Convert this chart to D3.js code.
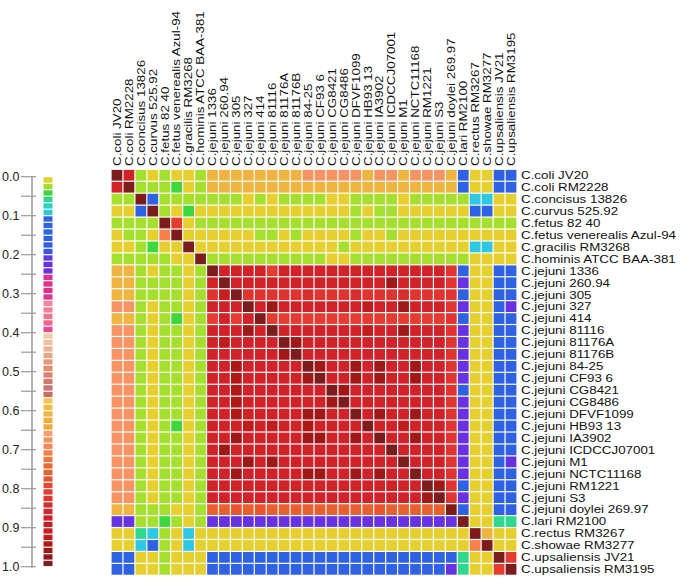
<!DOCTYPE html>
<html><head><meta charset="utf-8">
<script src="https://cdn.jsdelivr.net/npm/d3@7"></script>
<style>
body{margin:0;background:#fff;}
svg text{font-family:"Liberation Sans",Arial,Helvetica,sans-serif;}
</style>
</head><body>
<svg id="chart" width="686" height="580"></svg>
<script>
const strains = ["C.coli JV20","C.coli RM2228","C.concisus 13826","C.curvus 525.92","C.fetus 82 40","C.fetus venerealis Azul-94","C.gracilis RM3268","C.hominis ATCC BAA-381","C.jejuni 1336","C.jejuni 260.94","C.jejuni 305","C.jejuni 327","C.jejuni 414","C.jejuni 81116","C.jejuni 81176A","C.jejuni 81176B","C.jejuni 84-25","C.jejuni CF93 6","C.jejuni CG8421","C.jejuni CG8486","C.jejuni DFVF1099","C.jejuni HB93 13","C.jejuni IA3902","C.jejuni ICDCCJ07001","C.jejuni M1","C.jejuni NCTC11168","C.jejuni RM1221","C.jejuni S3","C.jejuni doylei 269.97","C.lari RM2100","C.rectus RM3267","C.showae RM3277","C.upsaliensis JV21","C.upsaliensis RM3195"];

const palette = ["#e6cf2e","#a5e02e","#3ed83e","#2ed88e","#2ed0c0","#2ec8e4",
"#2e62e2","#2e62e2","#2e62e2","#2e62e2","#2e62e2","#3a56e2",
"#5a3ce2","#6832e2","#6832e2","#e0308a","#e0308a","#e0308a",
"#e0348e","#f08898","#f08090","#f07490","#f06290","#f04890",
"#f2cca2","#ecc0a0","#eab498","#e8a888","#e89a7a","#e88c6c",
"#e08070","#d87870","#d07070","#d06868","#f2c458","#f2bc48",
"#f0b440","#f0b038","#f0aa30","#f8a070","#f89464","#f88a58",
"#f8804a","#f07840","#e86a34","#e86030","#e85430","#e84830",
"#e63c30","#e03430","#d82e30","#d22a30","#d02228","#cc2024",
"#c81e20","#c01c1c","#b01818","#a01818","#901818","#7c1c1c"];

const legendTicks = [0,0.1,0.2,0.3,0.4,0.5,0.6,0.7,0.8,0.9,1.0];
const legendMinorTicks = [0.05,0.15,0.25,0.35,0.45,0.55,0.65,0.75,0.85,0.95];

const matrix = [
[1.0,0.88,0.02,0.00,0.02,0.00,0.00,0.02, 0.61,0.61,0.61,0.61,0.61,0.61,0.61,0.61,0.68,0.68,0.68,0.68,0.68,0.61,0.68,0.68,0.61,0.68,0.68,0.68,0.61, 0.14,0.00,0.00,0.14,0.14],
[0.88,1.0,0.02,0.02,0.02,0.04,0.00,0.02, 0.61,0.61,0.61,0.61,0.61,0.61,0.61,0.61,0.61,0.61,0.61,0.61,0.61,0.61,0.61,0.61,0.61,0.61,0.61,0.61,0.61, 0.14,0.00,0.00,0.14,0.14],
[0.02,0.02,1.0,0.14,0.02,0.02,0.02,0.02, 0.02,0.02,0.02,0.00,0.02,0.00,0.02,0.02,0.02,0.02,0.00,0.00,0.02,0.02,0.02,0.02,0.00,0.02,0.02,0.02,0.02, 0.02,0.09,0.09,0.00,0.00],
[0.00,0.00,0.14,1.0,0.02,0.00,0.04,0.00, 0.00,0.00,0.00,0.00,0.00,0.00,0.00,0.00,0.00,0.00,0.00,0.00,0.02,0.00,0.02,0.02,0.00,0.00,0.00,0.00,0.00, 0.00,0.14,0.14,0.00,0.00],
[0.02,0.02,0.02,0.02,1.0,0.81,0.00,0.02, 0.02,0.02,0.02,0.02,0.02,0.02,0.02,0.02,0.02,0.02,0.02,0.02,0.02,0.02,0.02,0.02,0.02,0.02,0.02,0.02,0.02, 0.02,0.02,0.02,0.02,0.02],
[0.00,0.02,0.02,0.00,0.71,1.0,0.00,0.00, 0.00,0.00,0.00,0.00,0.02,0.02,0.00,0.02,0.00,0.00,0.00,0.00,0.02,0.00,0.00,0.02,0.00,0.00,0.00,0.00,0.00, 0.00,0.00,0.00,0.00,0.00],
[0.00,0.00,0.02,0.04,0.00,0.00,1.0,0.00, 0.00,0.00,0.00,0.00,0.00,0.00,0.00,0.00,0.00,0.00,0.00,0.02,0.00,0.00,0.00,0.00,0.00,0.00,0.00,0.00,0.00, 0.00,0.09,0.09,0.00,0.00],
[0.02,0.02,0.02,0.02,0.02,0.00,0.00,1.0, 0.02,0.02,0.02,0.02,0.02,0.02,0.02,0.02,0.02,0.02,0.00,0.00,0.02,0.02,0.02,0.02,0.02,0.02,0.02,0.02,0.02, 0.02,0.00,0.00,0.00,0.00],
[0.61,0.61,0.02,0.00,0.02,0.02,0.00,0.02, 1.0,0.88,0.88,0.88,0.88,0.81,0.88,0.88,0.88,0.88,0.88,0.88,0.88,0.88,0.88,0.88,0.88,0.88,0.88,0.88,0.82, 0.14,0.00,0.00,0.14,0.14],
[0.61,0.61,0.02,0.02,0.02,0.02,0.00,0.02, 0.88,1.0,0.88,0.88,0.88,0.88,0.88,0.88,0.88,0.88,0.88,0.88,0.88,0.88,0.88,0.96,0.88,0.88,0.88,0.88,0.82, 0.22,0.00,0.00,0.14,0.14],
[0.61,0.61,0.02,0.02,0.02,0.02,0.00,0.02, 0.83,0.90,1.0,0.82,0.82,0.82,0.82,0.82,0.84,0.82,0.82,0.82,0.84,0.82,0.82,0.82,0.84,0.82,0.82,0.82,0.82, 0.14,0.00,0.00,0.14,0.14],
[0.68,0.68,0.02,0.00,0.02,0.02,0.00,0.02, 0.88,0.88,0.88,1.0,0.88,0.96,0.88,0.88,0.88,0.88,0.88,0.88,0.88,0.92,0.88,0.88,0.96,0.88,0.88,0.88,0.82, 0.22,0.00,0.00,0.14,0.22],
[0.61,0.61,0.02,0.00,0.02,0.04,0.00,0.02, 0.81,0.88,0.81,0.88,1.0,0.81,0.81,0.81,0.81,0.81,0.81,0.81,0.81,0.81,0.81,0.81,0.81,0.81,0.81,0.81,0.82, 0.14,0.00,0.00,0.14,0.14],
[0.68,0.68,0.02,0.00,0.02,0.02,0.00,0.02, 0.88,0.88,0.88,0.96,0.88,1.0,0.88,0.88,0.88,0.88,0.88,0.88,0.88,0.92,0.88,0.88,0.96,0.88,0.88,0.88,0.82, 0.22,0.00,0.00,0.14,0.14],
[0.68,0.68,0.02,0.00,0.02,0.02,0.00,0.02, 0.88,0.93,0.88,0.88,0.88,0.88,1.0,0.96,0.88,0.88,0.88,0.88,0.88,0.88,0.88,0.88,0.88,0.88,0.88,0.88,0.82, 0.22,0.00,0.00,0.14,0.14],
[0.68,0.68,0.02,0.00,0.02,0.02,0.00,0.02, 0.88,0.88,0.88,0.88,0.88,0.88,0.96,1.0,0.88,0.88,0.88,0.88,0.88,0.88,0.88,0.88,0.88,0.88,0.88,0.88,0.82, 0.22,0.00,0.00,0.14,0.14],
[0.68,0.68,0.02,0.00,0.02,0.02,0.00,0.02, 0.88,0.88,0.94,0.88,0.88,0.88,0.88,0.88,1.0,0.96,0.88,0.88,0.96,0.88,0.96,0.88,0.88,0.96,0.88,0.88,0.82, 0.22,0.00,0.00,0.14,0.14],
[0.68,0.68,0.02,0.00,0.02,0.02,0.00,0.02, 0.88,0.88,0.94,0.88,0.88,0.88,0.88,0.88,0.96,1.0,0.88,0.88,0.96,0.88,0.96,0.88,0.88,0.96,0.88,0.88,0.82, 0.22,0.00,0.00,0.14,0.14],
[0.68,0.68,0.02,0.00,0.02,0.02,0.00,0.02, 0.88,0.88,0.94,0.88,0.88,0.88,0.88,0.88,0.88,0.88,1.0,0.96,0.88,0.88,0.88,0.88,0.88,0.88,0.88,0.88,0.82, 0.14,0.00,0.00,0.14,0.14],
[0.68,0.68,0.02,0.00,0.02,0.02,0.00,0.02, 0.88,0.88,0.94,0.88,0.88,0.88,0.88,0.88,0.88,0.88,0.96,1.0,0.88,0.88,0.88,0.88,0.88,0.88,0.88,0.88,0.82, 0.22,0.00,0.00,0.14,0.14],
[0.68,0.68,0.02,0.00,0.02,0.02,0.00,0.02, 0.88,0.88,0.94,0.88,0.88,0.88,0.88,0.88,0.96,0.96,0.88,0.88,1.0,0.88,0.96,0.88,0.88,0.96,0.88,0.88,0.82, 0.22,0.00,0.00,0.14,0.14],
[0.68,0.68,0.02,0.00,0.02,0.04,0.00,0.02, 0.88,0.88,0.88,0.92,0.88,0.92,0.88,0.88,0.94,0.88,0.88,0.88,0.88,1.0,0.88,0.88,0.92,0.88,0.88,0.88,0.82, 0.22,0.00,0.00,0.14,0.14],
[0.68,0.68,0.02,0.00,0.02,0.02,0.00,0.02, 0.88,0.88,0.96,0.88,0.88,0.88,0.88,0.88,0.96,0.96,0.88,0.88,0.96,0.88,1.0,0.88,0.88,0.96,0.88,0.88,0.82, 0.22,0.00,0.00,0.14,0.14],
[0.68,0.68,0.02,0.00,0.02,0.02,0.00,0.02, 0.88,0.96,0.88,0.88,0.88,0.88,0.88,0.88,0.88,0.88,0.88,0.88,0.88,0.88,0.88,1.0,0.88,0.88,0.88,0.88,0.82, 0.22,0.00,0.00,0.14,0.14],
[0.68,0.68,0.02,0.00,0.02,0.02,0.00,0.02, 0.88,0.88,0.88,0.96,0.88,0.96,0.88,0.88,0.88,0.88,0.88,0.88,0.88,0.88,0.88,0.88,1.0,0.88,0.88,0.88,0.82, 0.22,0.00,0.00,0.14,0.22],
[0.68,0.68,0.02,0.00,0.02,0.02,0.00,0.02, 0.88,0.88,0.96,0.88,0.88,0.88,0.88,0.88,0.96,0.96,0.88,0.88,0.96,0.88,0.96,0.88,0.88,1.0,0.88,0.88,0.82, 0.22,0.00,0.00,0.14,0.14],
[0.68,0.68,0.02,0.00,0.02,0.02,0.00,0.02, 0.88,0.88,0.88,0.88,0.88,0.88,0.88,0.88,0.88,0.88,0.88,0.88,0.88,0.88,0.88,0.88,0.88,0.88,1.0,0.96,0.82, 0.14,0.00,0.00,0.14,0.14],
[0.68,0.68,0.02,0.00,0.02,0.02,0.00,0.02, 0.88,0.88,0.88,0.88,0.88,0.88,0.88,0.88,0.88,0.88,0.88,0.88,0.88,0.88,0.88,0.88,0.88,0.88,0.96,1.0,0.82, 0.22,0.00,0.00,0.14,0.14],
[0.61,0.61,0.02,0.02,0.02,0.00,0.00,0.02, 0.75,0.76,0.78,0.75,0.77,0.75,0.76,0.75,0.75,0.76,0.75,0.75,0.76,0.75,0.77,0.75,0.76,0.75,0.76,0.75,1.0, 0.14,0.00,0.00,0.14,0.14],
[0.22,0.22,0.02,0.02,0.04,0.02,0.00,0.02, 0.22,0.22,0.22,0.22,0.22,0.22,0.22,0.22,0.22,0.22,0.22,0.22,0.22,0.22,0.22,0.22,0.22,0.22,0.22,0.22,0.22, 1.0,0.00,0.00,0.06,0.06],
[0.00,0.00,0.06,0.09,0.02,0.00,0.09,0.00, 0.00,0.00,0.00,0.00,0.00,0.00,0.00,0.00,0.00,0.00,0.00,0.00,0.00,0.00,0.00,0.00,0.00,0.00,0.00,0.00,0.00, 0.00,1.0,0.61,0.00,0.00],
[0.00,0.00,0.09,0.14,0.02,0.00,0.09,0.00, 0.00,0.00,0.00,0.00,0.00,0.00,0.00,0.00,0.00,0.00,0.00,0.00,0.00,0.00,0.00,0.00,0.00,0.00,0.00,0.00,0.00, 0.00,0.71,1.0,0.00,0.00],
[0.14,0.14,0.00,0.00,0.02,0.00,0.00,0.00, 0.14,0.14,0.14,0.14,0.14,0.14,0.14,0.14,0.14,0.14,0.14,0.14,0.14,0.14,0.14,0.14,0.14,0.14,0.14,0.14,0.14, 0.06,0.00,0.00,1.0,0.81],
[0.14,0.14,0.00,0.00,0.02,0.00,0.00,0.00, 0.14,0.14,0.14,0.14,0.14,0.14,0.14,0.14,0.14,0.14,0.14,0.14,0.14,0.14,0.14,0.14,0.14,0.14,0.14,0.14,0.22, 0.06,0.00,0.00,0.81,1.0]
];

const svg = d3.select("#chart");
const color = d3.scaleQuantize().domain([0,1]).range(palette);

const x = d3.scaleBand().domain(strains).range([111, 517]);
const y = d3.scaleBand().domain(strains).range([169.3, 575.3]);
const bw = x.bandwidth();

const cells = [];
matrix.forEach((row, i) => row.forEach((v, j) => cells.push({r: strains[i], c: strains[j], v})));

svg.append("g").selectAll("rect").data(cells).join("rect")
  .attr("x", d => x(d.c) + 0.6)
  .attr("y", d => y(d.r) + 0.6)
  .attr("width", bw - 1.2)
  .attr("height", bw - 1.2)
  .attr("fill", d => color(d.v));

const labelSize = 10.6, stretch = 1.26;

// row labels
svg.append("g").selectAll("text").data(strains).join("text")
  .attr("transform", d => `translate(521,${y(d) + bw / 2}) scale(${stretch},1)`)
  .attr("dy", "0.36em")
  .attr("font-size", labelSize)
  .attr("fill", "#111")
  .text(d => d);

// column labels
svg.append("g").selectAll("text").data(strains).join("text")
  .attr("transform", d => `translate(${x(d) + bw / 2},166) rotate(-90) scale(${stretch},1)`)
  .attr("dy", "0.36em")
  .attr("font-size", labelSize)
  .attr("fill", "#111")
  .text(d => d);

// legend
const ly = d3.scaleLinear().domain([0,1]).range([176.7, 566.7]);
const n = palette.length;
svg.append("g").selectAll("rect").data(palette).join("rect")
  .attr("x", 43.5)
  .attr("y", (d, k) => ly(k / n) + 0.6)
  .attr("width", 9)
  .attr("height", (d, k) => ly((k + 1) / n) - ly(k / n) - 1.2)
  .attr("fill", d => d);

const lg = svg.append("g");
lg.append("line").attr("x1", 32).attr("x2", 32)
  .attr("y1", ly(0) - 1).attr("y2", ly(1) + 1)
  .attr("stroke", "#999").attr("stroke-width", 1.5);
lg.selectAll("line.t").data(legendTicks.concat(legendMinorTicks)).join("line")
  .attr("class", "t")
  .attr("x1", 21).attr("x2", 36)
  .attr("y1", d => ly(d)).attr("y2", d => ly(d))
  .attr("stroke", "#999").attr("stroke-width", 1.2);
lg.selectAll("text").data(legendTicks).join("text")
  .attr("x", 19.5)
  .attr("y", d => ly(d))
  .attr("dy", "0.36em")
  .attr("text-anchor", "end")
  .attr("font-size", 12.5)
  .attr("fill", "#222")
  .text(d => d3.format(".1f")(d));
</script>
</body></html>
